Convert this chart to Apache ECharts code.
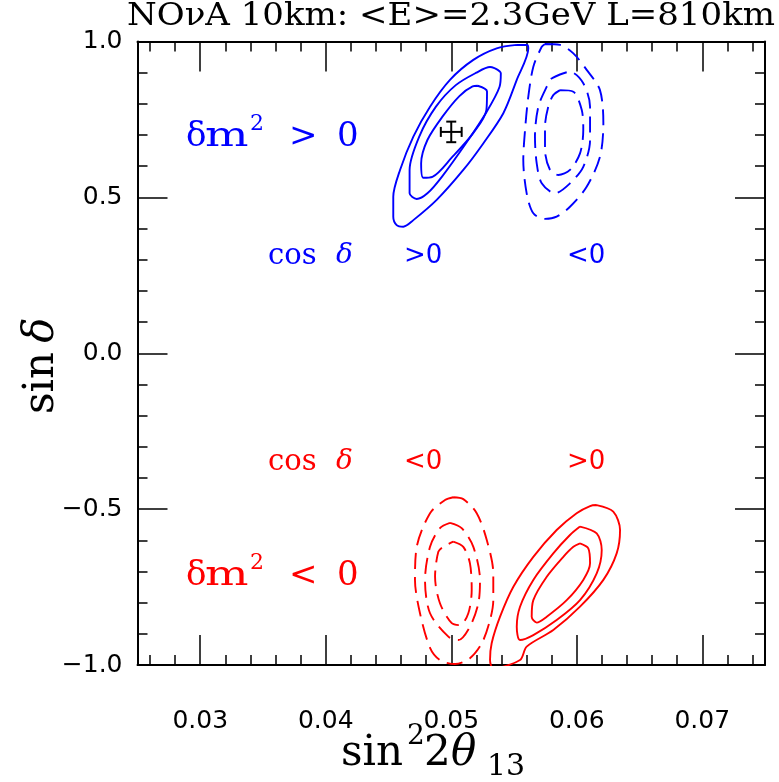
<!DOCTYPE html>
<html><head><meta charset="utf-8">
<script src="https://cdn.jsdelivr.net/npm/echarts@6/dist/echarts.min.js"></script>
<style>html,body{margin:0;padding:0;background:#fff}#c{width:779px;height:782px}</style>
</head><body><div id="c"></div><script>
// ---- axis ticks ----
const xMajorTicks = [0.03, 0.04, 0.05, 0.06, 0.07];
const xMinorTicks = [0.026, 0.028, 0.032, 0.034, 0.036, 0.038, 0.042, 0.044, 0.046, 0.048,
  0.052, 0.054, 0.056, 0.058, 0.062, 0.064, 0.066, 0.068, 0.072, 0.074];
const yMajorTicks = [-1, -0.5, 0, 0.5, 1];
const yMinorTicks = [-0.9, -0.8, -0.7, -0.6, -0.4, -0.3, -0.2, -0.1, 0.1, 0.2, 0.3, 0.4, 0.6, 0.7, 0.8, 0.9];

// ---- contours (sin^2 2theta13, sin delta) ----
const blueSolidOuter = [[0.05522,0.989],[0.05604,0.989],[0.05614,0.978],[0.05522,0.877],[0.05415,0.770],[0.05255,0.673],[0.05096,0.588],[0.04884,0.492],[0.04698,0.427],[0.04618,0.406],[0.04565,0.411],[0.04538,0.438],[0.04538,0.502],[0.04592,0.588],[0.04698,0.695],[0.04831,0.791],[0.04990,0.877],[0.05176,0.941],[0.05362,0.978]];
const blueSolidMid = [[0.05349,0.914],[0.05395,0.898],[0.05385,0.855],[0.05275,0.770],[0.05116,0.673],[0.04925,0.566],[0.04810,0.513],[0.04725,0.495],[0.04668,0.513],[0.04668,0.588],[0.04745,0.695],[0.04878,0.791],[0.05036,0.860],[0.05200,0.900],[0.05309,0.918]];
const blueSolidInner = [[0.05210,0.858],[0.05285,0.840],[0.05280,0.780],[0.05175,0.706],[0.05005,0.628],[0.04850,0.566],[0.04777,0.563],[0.04760,0.609],[0.04810,0.684],[0.04930,0.759],[0.05065,0.825],[0.05170,0.856]];
const blueDashOuter = [[0.05747,0.992],[0.05867,0.989],[0.05973,0.962],[0.06079,0.909],[0.06185,0.844],[0.06212,0.738],[0.06185,0.630],[0.06079,0.534],[0.05946,0.470],[0.05840,0.438],[0.05747,0.431],[0.05654,0.449],[0.05601,0.513],[0.05574,0.620],[0.05588,0.716],[0.05614,0.823],[0.05654,0.919],[0.05721,0.983]];
const blueDashMid = [[0.05800,0.882],[0.05946,0.903],[0.06052,0.866],[0.06106,0.791],[0.06106,0.684],[0.06052,0.598],[0.05946,0.545],[0.05827,0.513],[0.05721,0.545],[0.05681,0.609],[0.05667,0.695],[0.05694,0.791],[0.05761,0.855]];
const blueDashInner = [[0.05867,0.844],[0.05973,0.839],[0.06040,0.780],[0.06052,0.716],[0.06026,0.641],[0.05946,0.588],[0.05853,0.572],[0.05787,0.588],[0.05747,0.652],[0.05747,0.727],[0.05773,0.791],[0.05813,0.828]];
const redSolidOuter = [[0.06159,-0.487],[0.06291,-0.508],[0.06345,-0.567],[0.06318,-0.642],[0.06212,-0.727],[0.06026,-0.813],[0.05813,-0.888],[0.05601,-0.941],[0.05548,-0.984],[0.05335,-1.010],[0.05309,-0.984],[0.05322,-0.930],[0.05389,-0.845],[0.05495,-0.749],[0.05654,-0.653],[0.05840,-0.567],[0.05999,-0.513],[0.06106,-0.490]];
const redSolidMid = [[0.06026,-0.556],[0.06159,-0.578],[0.06199,-0.631],[0.06159,-0.706],[0.06026,-0.792],[0.05840,-0.856],[0.05654,-0.904],[0.05548,-0.920],[0.05522,-0.877],[0.05548,-0.813],[0.05654,-0.727],[0.05813,-0.642],[0.05946,-0.583]];
const redSolidInner = [[0.06026,-0.610],[0.06092,-0.626],[0.06106,-0.674],[0.06052,-0.727],[0.05920,-0.792],[0.05761,-0.845],[0.05681,-0.864],[0.05641,-0.845],[0.05654,-0.792],[0.05761,-0.717],[0.05893,-0.653],[0.05973,-0.621]];
const redDashOuter = [[0.05016,-0.462],[0.05096,-0.468],[0.05203,-0.513],[0.05283,-0.599],[0.05335,-0.706],[0.05335,-0.792],[0.05309,-0.856],[0.05245,-0.929],[0.05149,-0.978],[0.05030,-0.997],[0.04910,-0.984],[0.04831,-0.945],[0.04751,-0.834],[0.04711,-0.727],[0.04725,-0.621],[0.04831,-0.513],[0.04950,-0.471]];
const redDashMid = [[0.04990,-0.544],[0.05083,-0.561],[0.05176,-0.621],[0.05229,-0.727],[0.05216,-0.802],[0.05149,-0.877],[0.05056,-0.920],[0.04977,-0.909],[0.04831,-0.834],[0.04791,-0.727],[0.04831,-0.621],[0.04910,-0.561]];
const redDashInner = [[0.05016,-0.604],[0.05096,-0.621],[0.05149,-0.674],[0.05163,-0.759],[0.05136,-0.834],[0.05070,-0.872],[0.05004,-0.866],[0.04910,-0.802],[0.04871,-0.717],[0.04897,-0.637],[0.04937,-0.621]];

// best fit point: x, y, xErr, yErr
const bestFit = [[0.0500, 0.710, 0.00083, 0.033]];

const titleText = 'NOνA 10km: <E>=2.3GeV L=810km';

// ---------------------------------------------------------
const BLUE = '#0000ff', RED = '#ff0000';
const SERIF = '"DejaVu Serif", serif';
const SANS = '"DejaVu Sans", sans-serif';
const XMIN = 0.025, XMAX = 0.075, YMIN = -1, YMAX = 1;

const mctx = document.createElement('canvas').getContext('2d');
function tw(t, font) { mctx.font = font; return mctx.measureText(t).width; }

function closeLoop(a) { return a.concat([a[0]]); }

function xAxisDef(pos, ticks, len, showLabel, showLine) {
  return {
    type: 'value', gridIndex: 0, position: pos, min: XMIN, max: XMAX,
    axisLine: { show: showLine, onZero: false, lineStyle: { color: '#000', width: 2 } },
    axisTick: { show: true, inside: true, length: len, customValues: ticks, lineStyle: { color: '#000', width: 1.5 } },
    axisLabel: { show: showLabel, customValues: ticks, margin: 44, color: '#000', fontFamily: SANS, fontSize: 25,
      formatter: v => v.toFixed(2) },
    splitLine: { show: false }
  };
}
function yAxisDef(pos, ticks, len, showLabel, showLine) {
  return {
    type: 'value', gridIndex: 0, position: pos, min: YMIN, max: YMAX,
    axisLine: { show: showLine, onZero: false, lineStyle: { color: '#000', width: 2 } },
    axisTick: { show: true, inside: true, length: len, customValues: ticks, lineStyle: { color: '#000', width: 1.5 } },
    axisLabel: { show: showLabel, customValues: ticks, margin: 15, color: '#000', fontFamily: SANS, fontSize: 25,
      formatter: v => (v < 0 ? '\u2212' : '') + Math.abs(v).toFixed(1) },
    splitLine: { show: false }
  };
}

function contour(data, color, dashed) {
  return {
    type: 'line', xAxisIndex: 0, yAxisIndex: 0, data: closeLoop(data),
    symbol: 'none', smooth: 0.3, clip: true, silent: true,
    lineStyle: { color: color, width: 1.9, type: dashed ? [16, 8] : 'solid' }
  };
}

// text helpers (graphic)
function T(t, x, y, size, color, o) {
  o = o || {};
  const font = (o.italic ? 'italic ' : '') + size + 'px ' + (o.family || SERIF);
  return {
    type: 'text', x: x, y: y, rotation: o.rot || 0, scaleX: o.sx || 1, silent: true,
    style: { text: t, fill: color, font: font, align: o.align || 'left', verticalAlign: 'middle',
      textAlign: o.align || 'left', textVerticalAlign: 'middle' }
  };
}

const graphics = [];
// title, stretched to the reference width
(function () {
  const size = 32, font = size + 'px ' + SERIF;
  const w = tw(titleText, font);
  graphics.push(T(titleText, 127, 17, size, '#000', { sx: 648 / w }));
})();

// δm² > 0 / δm² < 0
function dm2(sign, color, yMid) {
  graphics.push(T('δ', 186, yMid, 34, color));
  graphics.push(T('m', 205, yMid, 34, color, { sx: 1.35 }));
  graphics.push(T('2', 250, yMid - 13, 22, color));
  graphics.push(T(sign, 289, yMid, 34, color));
  graphics.push(T('0', 337, yMid, 34, color));
}
dm2('>', BLUE, 137);
dm2('<', RED, 576);

// cos δ rows
function cosRow(color, yMid, s1, s2) {
  graphics.push(T('cos', 268, yMid, 29, color));
  graphics.push(T('δ', 336, yMid, 28, color, { italic: true }));
  graphics.push(T(s1 + '0', 404, yMid, 26, color, { family: SANS }));
  graphics.push(T(s2 + '0', 567, yMid, 26, color, { family: SANS }));
}
cosRow(BLUE, 256, '>', '<');
cosRow(RED, 462, '<', '>');

// x-axis name sin²2θ13
(function () {
  const y = 754;
  graphics.push(T('sin', 341, y, 42, '#000'));
  graphics.push(T('2', 407, y - 17, 28, '#000'));
  graphics.push(T('2', 424, y, 42, '#000'));
  graphics.push(T('θ', 451, y, 42, '#000', { italic: true }));
  graphics.push(T('13', 487, y + 13, 30, '#000'));
})();
// y-axis name sin δ (rotated)
graphics.push(T('sin', 42, 383, 42, '#000', { rot: Math.PI / 2, align: 'center' }));
graphics.push(T('δ', 42, 330, 42, '#000', { rot: Math.PI / 2, align: 'center', italic: true }));

const option = {
  animation: false,
  backgroundColor: '#fff',
  grid: { left: 137.5, right: 14, top: 41.5, bottom: 117 },
  xAxis: [
    xAxisDef('bottom', xMajorTicks, 30, true, true),
    xAxisDef('bottom', xMinorTicks, 10, false, false),
    xAxisDef('top', xMajorTicks, 30, false, true),
    xAxisDef('top', xMinorTicks, 10, false, false)
  ],
  yAxis: [
    yAxisDef('left', yMajorTicks, 30, true, true),
    yAxisDef('left', yMinorTicks, 10, false, false),
    yAxisDef('right', yMajorTicks, 30, false, true),
    yAxisDef('right', yMinorTicks, 10, false, false)
  ],
  series: [
    contour(blueSolidOuter, BLUE, false),
    contour(blueSolidMid, BLUE, false),
    contour(blueSolidInner, BLUE, false),
    contour(blueDashOuter, BLUE, true),
    contour(blueDashMid, BLUE, true),
    contour(blueDashInner, BLUE, true),
    contour(redSolidOuter, RED, false),
    contour(redSolidMid, RED, false),
    contour(redSolidInner, RED, false),
    contour(redDashOuter, RED, true),
    contour(redDashMid, RED, true),
    contour(redDashInner, RED, true),
    {
      type: 'custom', xAxisIndex: 0, yAxisIndex: 0, data: bestFit, silent: true,
      renderItem: function (params, api) {
        const x = api.value(0), y = api.value(1), ex = api.value(2), ey = api.value(3);
        const l = api.coord([x - ex, y]), r = api.coord([x + ex, y]);
        const t = api.coord([x, y + ey]), b = api.coord([x, y - ey]);
        const cap = 5;
        const st = { stroke: '#000', lineWidth: 2 };
        const line = (x1, y1, x2, y2) => ({ type: 'line', shape: { x1, y1, x2, y2 }, style: st });
        return { type: 'group', children: [
          line(l[0], l[1], r[0], r[1]),
          line(t[0], t[1], b[0], b[1]),
          line(l[0], l[1] - cap, l[0], l[1] + cap),
          line(r[0], r[1] - cap, r[0], r[1] + cap),
          line(t[0] - cap, t[1], t[0] + cap, t[1]),
          line(b[0] - cap, b[1], b[0] + cap, b[1])
        ]};
      }
    }
  ],
  graphic: graphics
};
const chart = echarts.init(document.getElementById('c'));
chart.setOption(option);
</script></body></html>
